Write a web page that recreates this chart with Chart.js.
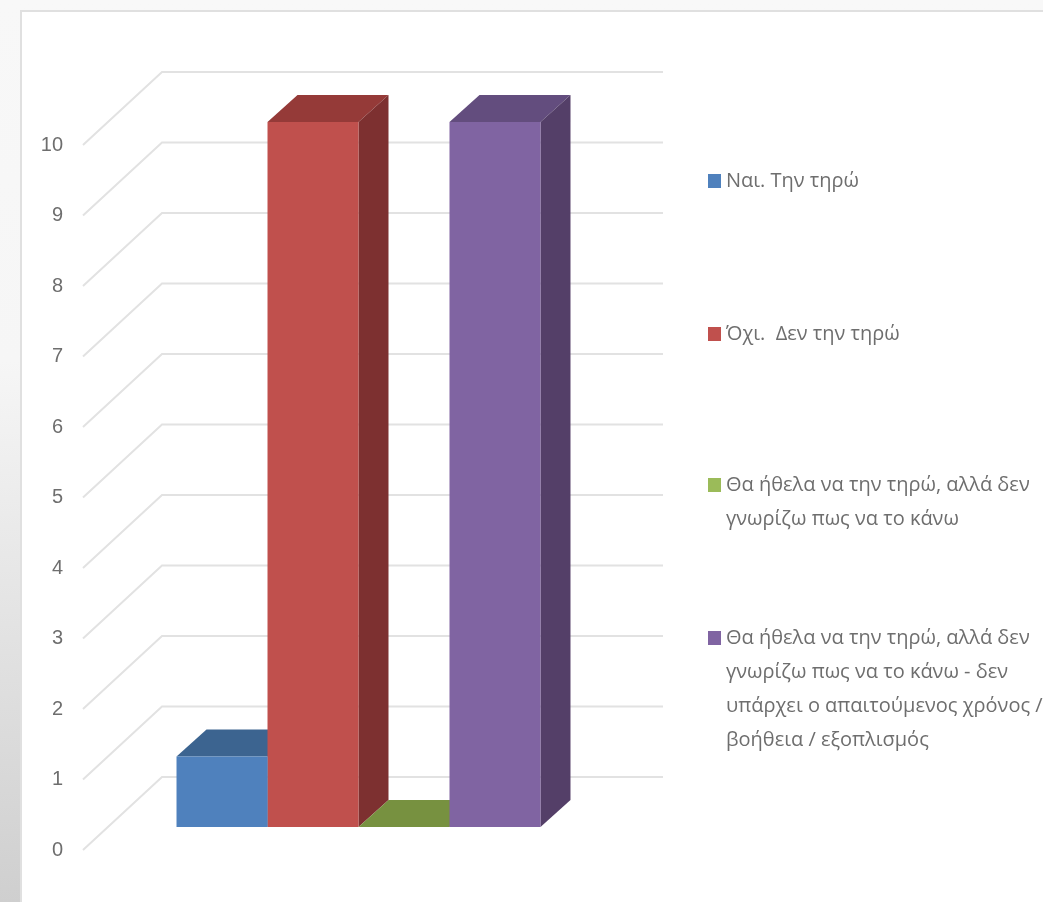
<!DOCTYPE html>
<html>
<head>
<meta charset="utf-8">
<script src="https://cdn.jsdelivr.net/npm/chart.js@4"></script>
<style>
    html, body { margin: 0; width: 1043px; height: 902px; overflow: hidden; }
    body { background: linear-gradient(to bottom, #f8f8f8 0%, #f6f6f6 40%, #cfcfcf 100%); }
    #panel { position: absolute; left: 20px; top: 10px; width: 1030px; height: 900px; background: white; border: 2px solid #e0e0e0; }
    #myChart { position: absolute; left: 0; top: 0; filter: blur(0.4px); }
</style>
</head>
<body>
<div id="panel"></div>
<canvas id="myChart" width="1043" height="902"></canvas>
<script>
const categorias = [''];
const ticksY = [0, 1, 2, 3, 4, 5, 6, 7, 8, 9, 10];

const nai = [1];
const ochi = [10];
const thaHthela = [0];
const thaHthelaXronos = [10];

const leyendaNai = ['Ναι. Την τηρώ'];
const leyendaOchi = ['Όχι.  Δεν την τηρώ'];
const leyendaThaHthela = ['Θα ήθελα να την τηρώ, αλλά δεν', 'γνωρίζω πως να το κάνω'];
const leyendaXronos = ['Θα ήθελα να την τηρώ, αλλά δεν', 'γνωρίζω πως να το κάνω - δεν', 'υπάρχει ο απαιτούμενος χρόνος /', 'βοήθεια / εξοπλισμός'];

// colores de cada serie: frente, arriba, lado
const colores = [
    { frente: '#4F81BD', arriba: '#3C6490', lado: '#3A5F8A' },
    { frente: '#C0504D', arriba: '#953A38', lado: '#7D3030' },
    { frente: '#9BBB59', arriba: '#779140', lado: '#6B8238' },
    { frente: '#8064A2', arriba: '#634D7E', lado: '#543F68' }
];

const profundidadPared = { x: 79, y: -73 };
const offsetBarra = { x: 25, y: -23 };
const profundidadBarra = { x: 30, y: -27 };

const paredes = {
    id: 'paredes',
    beforeDatasetsDraw(chart) {
        const ctx = chart.ctx;
        const escalaY = chart.scales.y;
        const area = chart.chartArea;
        ctx.save();
        ctx.strokeStyle = '#e2e2e2';
        ctx.lineWidth = 2;
        ticksY.forEach((valor) => {
            const y = escalaY.getPixelForValue(valor);
            ctx.beginPath();
            ctx.moveTo(area.left, y);
            ctx.lineTo(area.left + profundidadPared.x, y + profundidadPared.y);
            ctx.lineTo(area.right + profundidadPared.x, y + profundidadPared.y);
            ctx.stroke();
        });
        ctx.restore();
    }
};

function poligono(ctx, color, puntos) {
    ctx.fillStyle = color;
    ctx.beginPath();
    puntos.forEach((p, i) => {
        if (i == 0) {
            ctx.moveTo(p[0], p[1]);
        } else {
            ctx.lineTo(p[0], p[1]);
        }
    });
    ctx.closePath();
    ctx.fill();
}

// las caras de arriba y del lado van antes que los frentes, de izquierda a derecha
const barras3d = {
    id: 'barras3d',
    beforeDatasetsDraw(chart) {
        const ctx = chart.ctx;
        const dx = profundidadBarra.x;
        const dy = profundidadBarra.y;
        ctx.save();
        ctx.translate(offsetBarra.x, offsetBarra.y);
        chart.data.datasets.forEach((dataset, i) => {
            const color = colores[i];
            chart.getDatasetMeta(i).data.forEach((barra) => {
                const izq = barra.x - barra.width / 2;
                const der = barra.x + barra.width / 2;
                poligono(ctx, color.arriba, [[izq, barra.y], [der, barra.y], [der + dx, barra.y + dy], [izq + dx, barra.y + dy]]);
                if (barra.base > barra.y) {
                    poligono(ctx, color.lado, [[der, barra.y], [der + dx, barra.y + dy], [der + dx, barra.base + dy], [der, barra.base]]);
                }
            });
        });
        ctx.restore();
    },
    beforeDatasetDraw(chart) {
        chart.ctx.save();
        chart.ctx.translate(offsetBarra.x, offsetBarra.y);
    },
    afterDatasetDraw(chart) {
        chart.ctx.restore();
    }
};

const leyenda = {
    id: 'leyenda',
    afterDraw(chart) {
        const ctx = chart.ctx;
        const filas = [leyendaNai, leyendaOchi, leyendaThaHthela, leyendaXronos];
        const tops = [181, 334, 485, 638];
        ctx.save();
        ctx.font = '20px "Open Sans"';
        ctx.textBaseline = 'middle';
        filas.forEach((lineas, i) => {
            ctx.fillStyle = colores[i].frente;
            ctx.fillRect(708, tops[i] - 7, 13, 14);
            ctx.fillStyle = '#6e6e6e';
            lineas.forEach((linea, j) => {
                ctx.fillText(linea, 726, tops[i] + j * 34);
            });
        });
        ctx.restore();
    }
};

function serie(lineas, valores, i) {
    return {
        label: lineas.join(' '),
        data: valores,
        backgroundColor: colores[i].frente,
        borderWidth: 0,
        clip: false
    };
}

new Chart(document.getElementById('myChart'), {
    type: 'bar',
    data: {
        labels: categorias,
        datasets: [
            serie(leyendaNai, nai, 0),
            serie(leyendaOchi, ochi, 1),
            serie(leyendaThaHthela, thaHthela, 2),
            serie(leyendaXronos, thaHthelaXronos, 3)
        ]
    },
    options: {
        responsive: false,
        animation: false,
        layout: { padding: { left: 0, right: 459, top: 145, bottom: 52 } },
        datasets: { bar: { barPercentage: 1, categoryPercentage: 0.7265 } },
        plugins: { legend: { display: false }, tooltip: { enabled: false } },
        scales: {
            x: { display: false },
            y: {
                min: 0,
                max: 10,
                afterFit(scale) { scale.width = 83; },
                border: { display: false },
                grid: { display: false },
                ticks: {
                    stepSize: 1,
                    padding: 12,
                    color: '#6e6e6e',
                    font: { family: '"Liberation Sans"', size: 20 }
                }
            }
        }
    },
    plugins: [paredes, barras3d, leyenda]
});
</script>
</body>
</html>
